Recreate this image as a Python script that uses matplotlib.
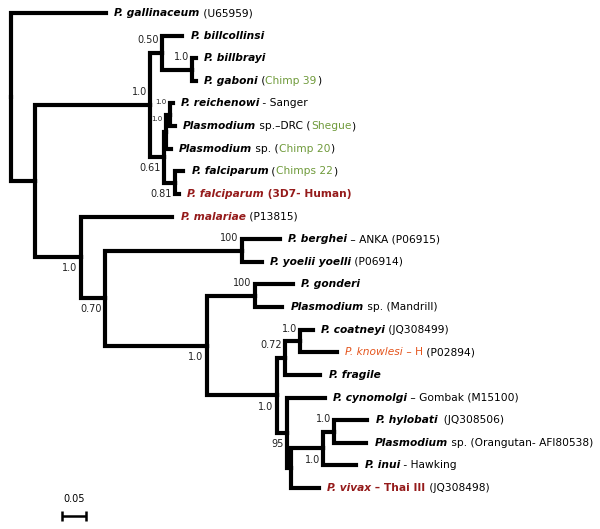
"""Plasmodium phylogeny drawn as a rectangular tree with matplotlib."""
import matplotlib
matplotlib.use("Agg")
import matplotlib.pyplot as plt
from matplotlib.collections import LineCollection

plt.rcParams.update({
    "font.family": ["DejaVu Sans"],
    "font.size": 7.7,
})

GREEN = "#6f9a3a"
RED = "#951b1b"
ORANGE = "#e4541c"
LW = 3.0

# internal nodes
node_names = ["root", "A", "B", "C", "D", "E", "G", "H", "F", "I", "J",
              "K", "L", "M", "N", "O", "Q", "P", "R", "S", "T"]
node_parents = [None, "root", "A", "B", "C", "B", "E", "G", "E", "A", "I",
                "J", "J", "L", "L", "N", "O", "N", "P", "R", "S"]
node_lengths = [0.0, 0.050, 0.240, 0.025, 0.0625, 0.029, 0.004, 0.008, 0.023, 0.096, 0.050,
                0.285, 0.2125, 0.100, 0.146, 0.017, 0.031, 0.021, 0.008, 0.067, 0.023]
node_support = ["", "", "1.0", "0.50", "1.0", "0.61", "1.0", "1.0", "0.81", "1.0", "0.70",
                "100", "1.0", "100", "1.0", "0.72", "1.0", "95", "", "1.0", "1.0"]
support_side = ["", "", "up", "up", "up", "down", "up", "up", "down", "down", "down",
                "up", "down", "up", "down", "up", "up", "down", "", "down", "up"]
small_support = ["G", "H"]

# leaves, top to bottom
leaf_parents = ["root", "C", "D", "D", "H", "H", "G", "F", "F", "I", "K", "K",
                "M", "M", "Q", "Q", "O", "P", "T", "T", "S", "R"]
leaf_lengths = [0.198, 0.042, 0.008, 0.008, 0.006, 0.010, 0.010, 0.017, 0.008, 0.190, 0.079, 0.042,
                0.079, 0.056, 0.027, 0.077, 0.073, 0.079, 0.069, 0.067, 0.069, 0.058]
leaf_labels = [
    [("P. gallinaceum", "bi"), (" (U65959)", "n")],
    [("P. billcollinsi", "bi")],
    [("P. billbrayi", "bi")],
    [("P. gaboni", "bi"), (" (", "n"), ("Chimp 39", "g"), (")", "n")],
    [("P. reichenowi", "bi"), (" - Sanger", "n")],
    [("Plasmodium", "bi"), (" sp.\u2013DRC (", "n"), ("Shegue", "g"), (")", "n")],
    [("Plasmodium", "bi"), (" sp. (", "n"), ("Chimp 20", "g"), (")", "n")],
    [("P. falciparum", "bi"), (" (", "n"), ("Chimps 22", "g"), (")", "n")],
    [("P. falciparum", "rbi"), (" (3D7- Human)", "rb")],
    [("P. malariae", "rbi"), (" (P13815)", "n")],
    [("P. berghei", "bi"), (" \u2013 ANKA (P06915)", "n")],
    [("P. yoelii yoelli", "bi"), (" (P06914)", "n")],
    [("P. gonderi", "bi")],
    [("Plasmodium", "bi"), (" sp. (Mandrill)", "n")],
    [("P. coatneyi", "bi"), (" (JQ308499)", "n")],
    [("P. knowlesi", "oi"), (" \u2013 H", "o"), (" (P02894)", "n")],
    [("P. fragile", "bi")],
    [("P. cynomolgi", "bi"), (" \u2013 Gombak (M15100)", "n")],
    [("P. hylobati", "bi"), ("  (JQ308506)", "n")],
    [("Plasmodium", "bi"), (" sp. (Orangutan- AFI80538)", "n")],
    [("P. inui", "bi"), (" - Hawking", "n")],
    [("P. vivax", "rbi"), (" \u2013 Thai III", "rb"), (" (JQ308498)", "n")],
]

scale_length = 0.05

STYLES = {
    "bi": dict(color="black", weight="bold", style="italic"),
    "n": dict(color="black"),
    "g": dict(color=GREEN),
    "rbi": dict(color=RED, weight="bold", style="italic"),
    "rb": dict(color=RED, weight="bold"),
    "oi": dict(color=ORANGE, style="italic"),
    "o": dict(color=ORANGE),
}

# ---- layout -------------------------------------------------------------
parent_of = dict(zip(node_names, node_parents))
length_of = dict(zip(node_names, node_lengths))
children = {n: [] for n in node_names}
for n, p in zip(node_names, node_parents):
    if p is not None:
        children[p].append(n)
leaf_ids = [f"leaf{i}" for i in range(len(leaf_parents))]
for lid, p, bl in zip(leaf_ids, leaf_parents, leaf_lengths):
    children[p].append(lid)
    parent_of[lid] = p
    length_of[lid] = bl

xpos, ypos = {}, {}


def place_x(name, x0):
    xpos[name] = x0 + length_of[name]
    for c in children.get(name, []):
        place_x(c, xpos[name])


def place_y(name):
    if name in leaf_ids:
        ypos[name] = leaf_ids.index(name)
        return ypos[name]
    ys = [place_y(c) for c in children[name]]
    ypos[name] = (min(ys) + max(ys)) / 2
    return ypos[name]


place_x("root", 0.0)
place_y("root")

fig = plt.figure(figsize=(6.0, 5.29), dpi=100)
ax = fig.add_axes([0, 0, 1, 1])
ax.set_xlim(-11 / 480, 589 / 480)
ax.set_ylim(22.81, -0.575)
ax.axis("off")

# elbow from each parent to each child
paths = []
for name, p in parent_of.items():
    if p is None:
        continue
    paths.append([(xpos[p], ypos[p]), (xpos[p], ypos[name]), (xpos[name], ypos[name])])
ax.add_collection(LineCollection(paths, colors="black", linewidths=LW,
                                 capstyle="projecting", joinstyle="miter"))

# support values
for name, sup, side in zip(node_names, node_support, support_side):
    if not sup:
        continue
    small = name in small_support
    dy = 9 if side == "up" else -8
    ax.annotate(sup, (xpos[name], ypos[name]), xytext=(-2.5, dy),
                textcoords="offset points", ha="right", va="center",
                fontsize=5 if small else 7, color="#222222")

# tip labels, one piece of styled text after another
for lid, pieces in zip(leaf_ids, leaf_labels):
    text, key = pieces[0]
    prev = ax.annotate(text, (xpos[lid], ypos[lid]), xytext=(6, 0),
                       textcoords="offset points", ha="left", va="center",
                       **STYLES[key])
    for text, key in pieces[1:]:
        prev = ax.annotate(text, xy=(1, 0), xycoords=prev, ha="left",
                           va="bottom", **STYLES[key])

# scale bar
sx0, sy = (62 - 11) / 480, 22.24
bar = [[(sx0, sy), (sx0 + scale_length, sy)],
       [(sx0, sy - 0.22), (sx0, sy + 0.22)],
       [(sx0 + scale_length, sy - 0.22), (sx0 + scale_length, sy + 0.22)]]
ax.add_collection(LineCollection(bar, colors="black", linewidths=1.8))
ax.text(sx0 + scale_length / 2, sy - 0.55, f"{scale_length:.2f}", ha="center",
        va="bottom", fontsize=7)

fig.savefig("out.png", dpi=100)
